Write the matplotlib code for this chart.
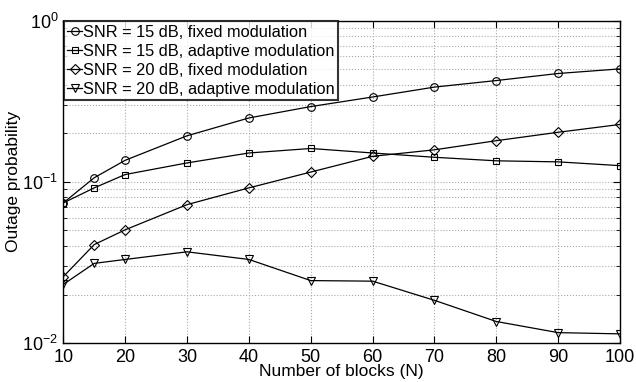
import matplotlib
matplotlib.use("Agg")
import matplotlib.pyplot as plt
from matplotlib.ticker import LogLocator, NullFormatter

plt.rcParams["font.family"] = ["Liberation Sans", "DejaVu Sans"]
plt.rcParams["mathtext.fontset"] = "custom"
plt.rcParams["mathtext.rm"] = "Liberation Sans"

# number of blocks
blocks = [10, 15, 20, 30, 40, 50, 60, 70, 80, 90, 100]

snr15_fixed = [0.074, 0.106, 0.136, 0.193, 0.249, 0.293, 0.336, 0.387, 0.425, 0.470, 0.502]
snr15_adaptive = [0.074, 0.0917, 0.111, 0.131, 0.151, 0.161, 0.151, 0.142, 0.135, 0.133, 0.126]
snr20_fixed = [0.0258, 0.0408, 0.0504, 0.0722, 0.0917, 0.115, 0.144, 0.158, 0.180, 0.203, 0.227]
snr20_adaptive = [0.0231, 0.0312, 0.0330, 0.0368, 0.0330, 0.0244, 0.0242, 0.0184, 0.0136, 0.0116, 0.0114]

labels = [
    "SNR = 15 dB, fixed modulation",
    "SNR = 15 dB, adaptive modulation",
    "SNR = 20 dB, fixed modulation",
    "SNR = 20 dB, adaptive modulation",
]
x_ticks = [10, 20, 30, 40, 50, 60, 70, 80, 90, 100]

fig = plt.figure(figsize=(6.36, 3.82), dpi=100)
ax = fig.add_axes([0.0995, 0.102, 0.8755, 0.844])

series = [snr15_fixed, snr15_adaptive, snr20_fixed, snr20_adaptive]
markers = ["o", "s", "D", "v"]
sizes = [5.5, 4.8, 4.6, 6]
for vals, m, ms, lab in zip(series, markers, sizes, labels):
    ax.plot(blocks, vals, color="black", linewidth=0.9, marker=m, markersize=ms,
            fillstyle="none", markeredgewidth=0.8, label=lab)

ax.set_yscale("log")
ax.set_xlim(10, 100)
ax.set_ylim(1e-2, 1)
ax.set_xticks(x_ticks)
ax.yaxis.set_major_locator(LogLocator(base=10, numticks=5))
ax.yaxis.set_minor_locator(LogLocator(base=10, subs=range(2, 10), numticks=20))
ax.yaxis.set_minor_formatter(NullFormatter())

ax.grid(True, which="major", linestyle=":", color="#aaaaaa", linewidth=0.8)
ax.grid(True, which="minor", axis="y", linestyle=":", color="#aaaaaa", linewidth=0.8)
ax.tick_params(which="both", direction="in", top=True, right=True, labelsize=13)
ax.tick_params(which="major", length=5)
ax.tick_params(which="minor", length=3)
ax.tick_params(axis="x", pad=4)
for s in ax.spines.values():
    s.set_linewidth(1.0)

ax.set_xlabel("Number of blocks (N)", fontsize=12.5, labelpad=-1)
ax.set_ylabel("Outage probability", fontsize=12.5, labelpad=1)

leg = ax.legend(loc="upper left", fontsize=11.8, frameon=True, fancybox=False,
                edgecolor="black", borderaxespad=0.05, handlelength=0.9,
                handletextpad=0.05, labelspacing=0.25, borderpad=0.2)
leg.get_frame().set_linewidth(1.5)

fig.savefig("out.png", dpi=100)
